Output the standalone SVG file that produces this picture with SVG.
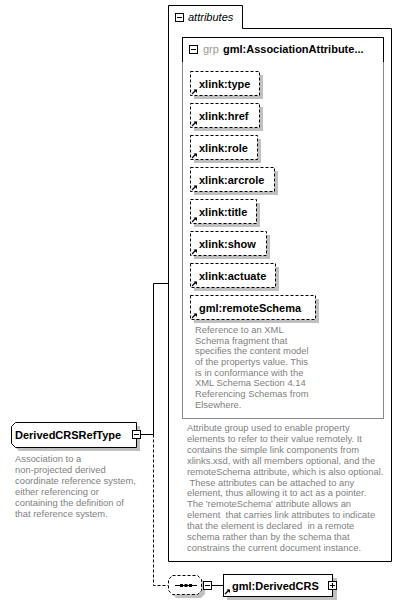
<svg xmlns="http://www.w3.org/2000/svg" width="402" height="607" viewBox="0 0 402 607">
<style>
.lbl{font-family:"Liberation Sans",Arial,sans-serif;font-size:11px;font-weight:bold;fill:#000}
.desc{font-family:"Liberation Sans",Arial,sans-serif;font-size:9.4px;fill:#808080;white-space:pre}
.shadow{fill:#c0c0c0}
.att{fill:#fff;stroke:#000;stroke-width:1;stroke-dasharray:3,2}
.box{fill:#fff;stroke:#000;stroke-width:1}
.ln{fill:none;stroke:#000;stroke-width:1}
.dash{fill:none;stroke:#000;stroke-width:1;stroke-dasharray:3,2}
.pm{fill:#fff;stroke:#000;stroke-width:1}
</style>
<defs>
<g id="refarrow"><path d="M0,5 L4,1" stroke="#000" stroke-width="1.2"/><path d="M1.5,0.5 L5,0.5 L5,4 Z" fill="#000"/></g>
</defs>
<rect width="402" height="607" fill="#fff"/>

<g id="connectors">
<path class="ln" d="M141,434.5 H153.5 V283.5 H168"/>
<path class="dash" d="M153.5,434.5 V585.5 H168"/>
<path class="ln" d="M212,585.5 H223"/>
</g>

<g id="attributes">
<path class="box" d="M168.5,561.5 V5.5 H242.5 V28.5 H391.5 V561.5 Z"/>
<rect class="pm" x="175.5" y="13.5" width="8" height="8"/>
<path class="ln" d="M177,17.5 H182"/>
<text x="188" y="21" font-family="Liberation Sans,Arial,sans-serif" font-size="11" font-style="italic">attributes</text>
<text class="desc" x="187" y="431">Attribute group used to enable property</text>
<text class="desc" x="187" y="442">elements to refer to their value remotely. It</text>
<text class="desc" x="187" y="453">contains the simple link components from</text>
<text class="desc" x="187" y="464">xlinks.xsd, with all members optional, and the</text>
<text class="desc" x="187" y="475">remoteSchema attribute, which is also optional.</text>
<text class="desc" x="187" y="486" xml:space="preserve"> These attributes can be attached to any</text>
<text class="desc" x="187" y="496">element, thus allowing it to act as a pointer.</text>
<text class="desc" x="187" y="507">The 'remoteSchema' attribute allows an</text>
<text class="desc" x="187" y="518" xml:space="preserve">element  that carries link attributes to indicate</text>
<text class="desc" x="187" y="529" xml:space="preserve">that the element is declared  in a remote</text>
<text class="desc" x="187" y="540">schema rather than by the schema that</text>
<text class="desc" x="187" y="551">constrains the current document instance.</text>
</g>

<g id="grp">
<rect x="182.5" y="37.5" width="201" height="381" fill="#fff" stroke="#888"/>
<path class="ln" d="M182.5,62 V37.5 H383.5 V62"/>
<rect class="pm" x="189.5" y="45.5" width="8" height="8"/>
<path class="ln" d="M191,49.5 H196"/>
<text x="203" y="53" font-family="Liberation Sans,Arial,sans-serif" font-size="11" fill="#999">grp</text>
<text class="lbl" x="223" y="53">gml:AssociationAttribute...</text>
</g>

<g id="xlink-type">
<rect class="shadow" x="194" y="75" width="69" height="24"/>
<rect class="att" x="190.5" y="71.5" width="69" height="24"/>
<use href="#refarrow" x="192" y="89"/>
<text class="lbl" x="199" y="88">xlink:type</text>
</g>
<g id="xlink-href">
<rect class="shadow" x="194" y="107" width="69" height="24"/>
<rect class="att" x="190.5" y="103.5" width="69" height="24"/>
<use href="#refarrow" x="192" y="121"/>
<text class="lbl" x="199" y="120">xlink:href</text>
</g>
<g id="xlink-role">
<rect class="shadow" x="194" y="139" width="67" height="24"/>
<rect class="att" x="190.5" y="135.5" width="67" height="24"/>
<use href="#refarrow" x="192" y="153"/>
<text class="lbl" x="199" y="152">xlink:role</text>
</g>
<g id="xlink-arcrole">
<rect class="shadow" x="194" y="171" width="84" height="24"/>
<rect class="att" x="190.5" y="167.5" width="84" height="24"/>
<use href="#refarrow" x="192" y="185"/>
<text class="lbl" x="199" y="184">xlink:arcrole</text>
</g>
<g id="xlink-title">
<rect class="shadow" x="194" y="203" width="66" height="24"/>
<rect class="att" x="190.5" y="199.5" width="66" height="24"/>
<use href="#refarrow" x="192" y="217"/>
<text class="lbl" x="199" y="216">xlink:title</text>
</g>
<g id="xlink-show">
<rect class="shadow" x="194" y="235" width="76" height="24"/>
<rect class="att" x="190.5" y="231.5" width="76" height="24"/>
<use href="#refarrow" x="192" y="249"/>
<text class="lbl" x="199" y="248">xlink:show</text>
</g>
<g id="xlink-actuate">
<rect class="shadow" x="194" y="267" width="85" height="24"/>
<rect class="att" x="190.5" y="263.5" width="85" height="24"/>
<use href="#refarrow" x="192" y="281"/>
<text class="lbl" x="199" y="280">xlink:actuate</text>
</g>
<g id="gml-remoteSchema">
<rect class="shadow" x="194" y="299" width="125" height="24"/>
<rect class="att" x="190.5" y="295.5" width="125" height="24"/>
<use href="#refarrow" x="192" y="313"/>
<text class="lbl" x="199" y="312">gml:remoteSchema</text>
<text class="desc" x="195" y="333">Reference to an XML</text>
<text class="desc" x="195" y="344">Schema fragment that</text>
<text class="desc" x="195" y="354">specifies the content model</text>
<text class="desc" x="195" y="365">of the propertys value. This</text>
<text class="desc" x="195" y="376">is in conformance with the</text>
<text class="desc" x="195" y="386">XML Schema Section 4.14</text>
<text class="desc" x="195" y="397">Referencing Schemas from</text>
<text class="desc" x="195" y="408">Elsewhere.</text>
</g>

<g id="DerivedCRSRefType">
<path class="shadow" d="M15,426 H140 V451 H19 L15,447 Z"/>
<path class="box" d="M15.5,422.5 H136.5 V447.5 H15.5 L11.5,443.5 V426.5 Z"/>
<text class="lbl" x="15" y="439">DerivedCRSRefType</text>
<rect class="pm" x="132.5" y="430.5" width="8" height="8"/>
<path class="ln" d="M134,434.5 H139"/>
<text class="desc" x="15" y="462">Association to a</text>
<text class="desc" x="15" y="473">non-projected derived</text>
<text class="desc" x="15" y="484">coordinate reference system,</text>
<text class="desc" x="15" y="495">either referencing or</text>
<text class="desc" x="15" y="506">containing the definition of</text>
<text class="desc" x="15" y="517">that reference system.</text>
</g>

<g id="sequence">
<path class="shadow" d="M176,579 H201 L205,583 V594 L201,598 H176 L172,594 V583 Z"/>
<path d="M172.5,575.5 H197.5 L201.5,579.5 V590.5 L197.5,594.5 H172.5 L168.5,590.5 V579.5 Z" fill="#fff" stroke="#000" stroke-dasharray="3,2"/>
<path class="ln" d="M175,585.5 H197"/>
<rect x="180" y="584" width="3" height="3" fill="#000"/>
<rect x="184.5" y="584" width="3" height="3" fill="#000"/>
<rect x="189" y="584" width="3" height="3" fill="#000"/>
<rect class="pm" x="203.5" y="581.5" width="8" height="8"/>
<path class="ln" d="M205,585.5 H210"/>
</g>

<g id="gml-DerivedCRS">
<rect class="shadow" x="227" y="578" width="110" height="22"/>
<rect class="box" x="223.5" y="574.5" width="109" height="22"/>
<use href="#refarrow" x="225" y="589"/>
<text class="lbl" x="232" y="590">gml:DerivedCRS</text>
<rect class="pm" x="328.5" y="581.5" width="8" height="8"/>
<path class="ln" d="M330,585.5 H335 M332.5,583 V588"/>
</g>
</svg>
